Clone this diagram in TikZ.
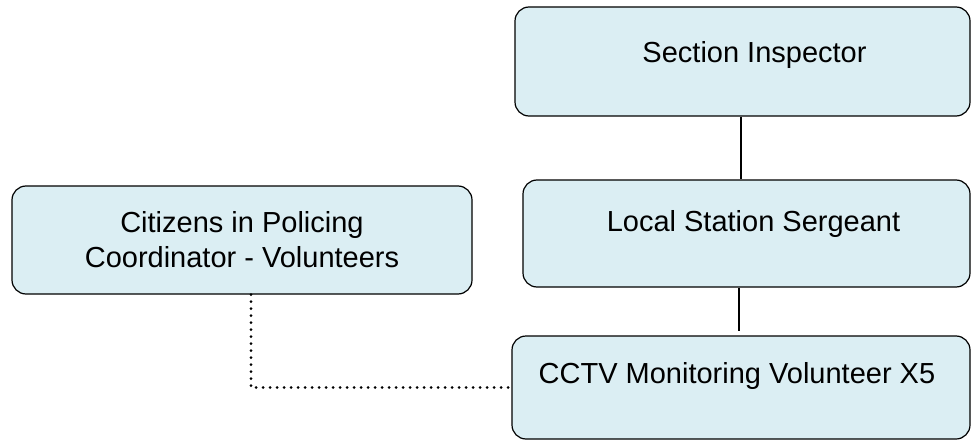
\documentclass[tikz,border=0pt]{standalone}
\usepackage{fontspec}
\setmainfont{Liberation Sans}
\definecolor{boxfill}{RGB}{219,238,243}
\begin{document}
\begin{tikzpicture}[x=1pt,y=-1pt,
  box/.style={draw=black, line width=1.2pt, fill=boxfill, rounded corners=14pt,
    inner xsep=0pt, inner ysep=0pt, align=center,
    font=\fontsize{29}{35}\selectfont},
  link/.style={draw=black, line width=1.1pt},
  dotlink/.style={draw=black, line width=3pt, line cap=round, dash pattern=on 0pt off 7pt}]
\useasboundingbox (0,0) rectangle (971,441);
\node[box, minimum width=455pt, minimum height=109pt, text height=55.7pt, text depth=53.3pt] (si) at (742.5,61.5) {\hspace*{24pt}Section Inspector};
\node[box, minimum width=447pt, minimum height=107pt, text height=51.7pt, text depth=55.3pt] (lss) at (746.5,233.5) {\hspace*{14pt}Local Station Sergeant};
\node[box, minimum width=458pt, minimum height=103pt, text height=47.3pt, text depth=55.7pt] (cctv) at (741,387.5) {\hspace*{-8pt}CCTV Monitoring Volunteer X5};
\node[box, minimum width=460pt, minimum height=108pt] (cit) at (242,240) {Citizens in Policing\\Coordinator - Volunteers};
\coordinate (a) at ([xshift=-1.5pt]si.south);
\draw[link] (a) -- (a |- lss.north);
\coordinate (b) at ([xshift=-7.5pt]lss.south);
\coordinate (c) at ([yshift=4pt]cctv.north);
\draw[link] (b) -- (b |- c);
\draw[dotlink] ([xshift=9pt]cit.south) |- (cctv.west);
\end{tikzpicture}
\end{document}
